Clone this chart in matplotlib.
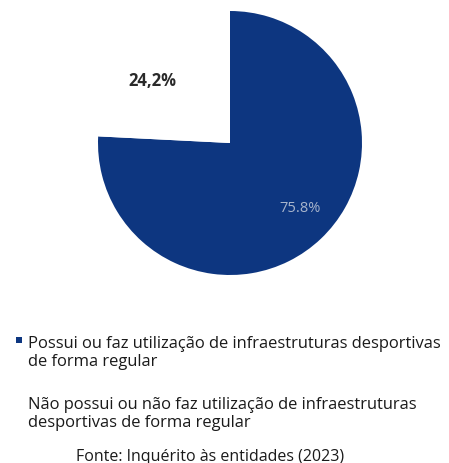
import matplotlib
matplotlib.use('Agg')
import matplotlib.pyplot as plt
from matplotlib.patches import Rectangle

plt.rcParams['font.family'] = ['Open Sans', 'DejaVu Sans']

# share of entities (%)
values = [75.8, 24.2]
decimal_marks = ['.', ',']
categories = [
    'Possui ou faz utilização de infraestruturas desportivas\nde forma regular',
    'Não possui ou não faz utilização de infraestruturas\ndesportivas de forma regular',
]
colors = ['#0d3680', '#ffffff']
source = 'Fonte: Inquérito às entidades (2023)'

W, H = 449, 464
fig = plt.figure(figsize=(W / 100, H / 100), dpi=100)

# pie: centre (230, 144) px, radius 132 px
cx, cy, r = 230, 144, 132
ax = fig.add_axes([(cx - r) / W, 1 - (cy + r) / H, 2 * r / W, 2 * r / H])
wedges, _ = ax.pie(values, colors=colors, startangle=90, counterclock=False,
                   radius=1, wedgeprops=dict(linewidth=0))
ax.set_xlim(-1, 1)
ax.set_ylim(-1, 1)
ax.set_aspect('equal')
ax.axis('off')

labels = [f'{v:.1f}'.replace('.', m) + '%' for v, m in zip(values, decimal_marks)]
ax.text(0.53, -0.49, labels[0], ha='center', va='center',
        fontsize=10.5, color='#a8b5cc')
ax.text(-0.585, 0.48, labels[1], ha='center', va='center',
        fontsize=12, fontweight='bold', color='#2a2a2a')

# legend
y_entries = [353, 414]
for name, col, y in zip(categories, colors, y_entries):
    if col != '#ffffff':
        fig.patches.append(Rectangle((16 / W, 1 - 344 / H), 6 / W, 6 / H,
                                     transform=fig.transFigure,
                                     color=col, linewidth=0))
    fig.text(28 / W, 1 - y / H, name, ha='left', va='center',
             fontsize=11.9, color='#1a1a1a', linespacing=1.15)

fig.text(210 / W, 1 - 457 / H, source, ha='center', va='center',
         fontsize=11.5, color='#1a1a1a')

fig.savefig('out.png', dpi=100)
